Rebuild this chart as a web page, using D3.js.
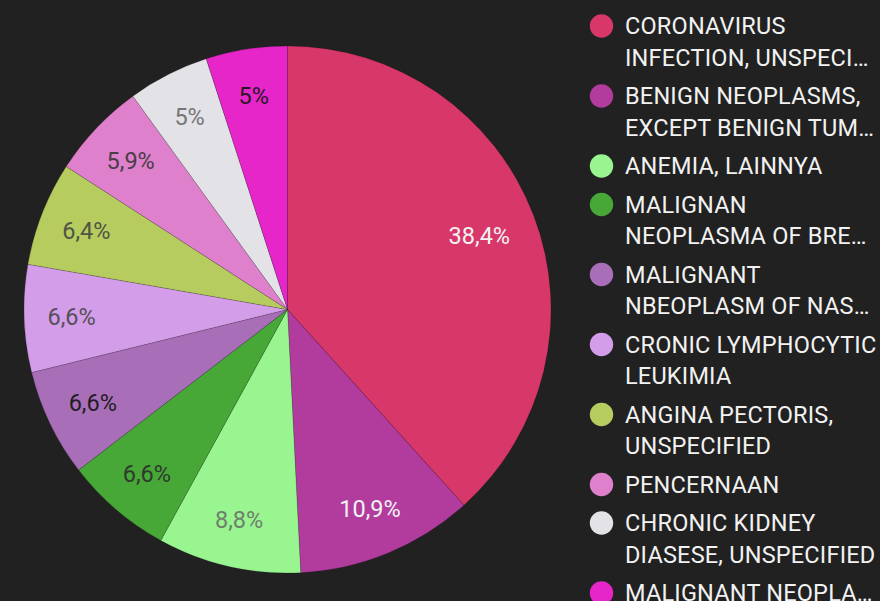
<!DOCTYPE html>
<html>
<head>
<meta charset="utf-8">
<script src="https://cdn.jsdelivr.net/npm/d3@7"></script>
<style>
  html, body { margin: 0; padding: 0; background: #212121; overflow: hidden; }
  svg { display: block; font-family: Roboto, sans-serif; }
</style>
</head>
<body>
<div class="chart"></div>
<script>
// データ
const categories = [
    "CORONAVIRUS\nINFECTION, UNSPECI…",
    "BENIGN NEOPLASMS,\nEXCEPT BENIGN TUM…",
    "ANEMIA, LAINNYA",
    "MALIGNAN\nNEOPLASMA OF BRE…",
    "MALIGNANT\nNBEOPLASM OF NAS…",
    "CRONIC LYMPHOCYTIC\nLEUKIMIA",
    "ANGINA PECTORIS,\nUNSPECIFIED",
    "PENCERNAAN",
    "CHRONIC KIDNEY\nDIASESE, UNSPECIFIED",
    "MALIGNANT NEOPLA…"
];
const values = [38.4, 10.9, 8.8, 6.6, 6.6, 6.6, 6.4, 5.9, 5, 5];

// 色
const colors = ["#d83769", "#b23c9e", "#98f590", "#47a838", "#a86fb8",
                "#d49de9", "#b6cc5f", "#de80cb", "#e3e2e7", "#e626c9"];
const labelColors = ["#f2f2f2", "#f2f2f2", "#6f806c", "#2e3a2b", "#221c25",
                     "#555058", "#4f5444", "#4a3d48", "#767676", "#2a1828"];

// サイズ
const width = 880, height = 601;
const cx = 287.5, cy = 309.5, radius = 263.5;

const svg = d3.select(".chart")
    .append("svg")
    .attr("width", width)
    .attr("height", height);

const color = d3.scaleOrdinal().domain(categories).range(colors);
const labelColor = d3.scaleOrdinal().domain(categories).range(labelColors);

const pie = d3.pie().sort(null).value(d => d.value);
const arcs = pie(categories.map((c, i) => ({ name: c, value: values[i] })));

const arc = d3.arc().innerRadius(0).outerRadius(radius);
// 大きいスライスほどラベルを内側に
const labelR = d => radius * (d.endAngle - d.startAngle > 1 ? 0.78 : 0.82);

const g = svg.append("g").attr("transform", `translate(${cx},${cy})`);

g.selectAll("path")
    .data(arcs)
    .enter()
    .append("path")
    .attr("d", arc)
    .attr("fill", d => color(d.data.name))
    .attr("stroke", "rgba(0,0,0,0.25)")
    .attr("stroke-width", 0.6);

// ラベル
const fmt = v => String(v).replace(".", ",") + "%";
g.selectAll(".slice-label")
    .data(arcs)
    .enter()
    .append("text")
    .attr("class", "slice-label")
    .attr("transform", d => {
        const r = labelR(d);
        const [x, y] = d3.arc().innerRadius(r).outerRadius(r).centroid(d);
        return `translate(${x},${y})`;
    })
    .attr("text-anchor", "middle")
    .attr("dy", "0.35em")
    .style("font-size", "23.5px")
    .style("fill", d => labelColor(d.data.name))
    .text(d => fmt(d.data.value));

// 凡例
const legendX = 601.5, textX = 625, lineH = 31.5, gap = 7;
let y = 26;
const legend = svg.append("g").attr("class", "legend");
categories.forEach(c => {
    const lines = c.split("\n");
    const item = legend.append("g");
    item.append("circle")
        .attr("cx", legendX)
        .attr("cy", y)
        .attr("r", 11.7)
        .attr("fill", color(c));
    const t = item.append("text")
        .attr("x", textX)
        .attr("y", y)
        .style("font-size", "23.5px")
        .style("letter-spacing", "0.2px")
        .style("fill", "#f2f2f2");
    lines.forEach((l, i) => {
        t.append("tspan")
            .attr("x", textX)
            .attr("dy", i === 0 ? "0.35em" : lineH)
            .text(l);
    });
    y += lines.length * lineH + gap;
});
</script>
</body>
</html>
